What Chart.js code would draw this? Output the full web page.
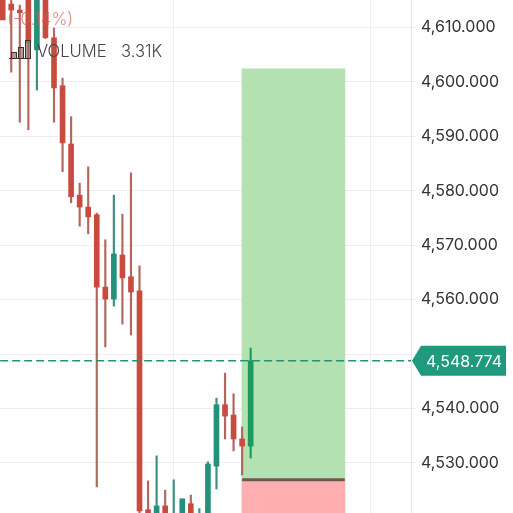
<!DOCTYPE html>
<html>
<head>
<meta charset="utf-8">
<style>
  html, body { margin: 0; padding: 0; background: #fff; }
  #chart { display: block; }
</style>
<script src="https://cdn.jsdelivr.net/npm/chart.js@4"></script>
</head>
<body>
<canvas id="chart" width="513" height="513"></canvas>
<script>
const opens  = [4617, 4614.3, 4613.2, 4617, 4605.9, 4617, 4608.1, 4599.3, 4588.6, 4579.2, 4577.0, 4575.6, 4562.3, 4560.1, 4568.2, 4564.2, 4561.6, 4521.4, 4518, 4522.1, 4517, 4518, 4522.5, 4518, 4518, 4529.4, 4540.7, 4538.8, 4534.4, 4533.1];
const closes = [4611.4, 4613.2, 4612.7, 4607.2, 4617, 4608.1, 4598.9, 4588.8, 4578.9, 4577.0, 4575.2, 4562.3, 4560.1, 4568.4, 4564.0, 4561.4, 4521.2, 4519, 4522.1, 4519, 4519, 4523.4, 4519, 4520, 4529.8, 4540.7, 4538.6, 4534.4, 4533.1, 4548.774];
const highs  = [4617, 4617, 4614.1, 4617, 4617, 4617, 4609.9, 4600.7, 4593.6, 4581.4, 4584.4, 4575.9, 4571.0, 4579.2, 4575.7, 4583.3, 4566.2, 4526.7, 4531.3, 4525.0, 4526.9, 4523.4, 4524.1, 4521.6, 4530.2, 4541.9, 4546.5, 4542.7, 4536.6, 4551.1];
const lows   = [4611.4, 4601.8, 4592.6, 4591.2, 4598.5, 4608, 4592.6, 4583.5, 4577.8, 4573.5, 4572.1, 4525.6, 4551.3, 4558.8, 4555.5, 4553.5, 4520.6, 4518, 4517, 4517, 4516, 4517, 4517, 4517, 4517, 4525.2, 4534.4, 4532.2, 4527.8, 4530.9];

const tickValues = [4530, 4540, 4550, 4560, 4570, 4580, 4590, 4600, 4610];
const xGridLines = [20, 43];
const lastPrice = 4548.774;
const targetBox = [4526.9, 4602.4];
const stopBox = [4520, 4526.9];
const boxSpan = [28, 34, 40];

const RED = '#c94b3f', RED_WICK = '#b2665e';
const GREEN = '#26917a', GREEN_WICK = '#3d9080', LAST_GREEN = '#1b9c5e';

const indexes = opens.map((_, i) => i);
const isLast = i => i === opens.length - 1;
const bodyColors = indexes.map(i => isLast(i) ? LAST_GREEN : closes[i] >= opens[i] ? GREEN : RED);
const wickColors = indexes.map(i => isLast(i) ? LAST_GREEN : closes[i] >= opens[i] ? GREEN_WICK : RED_WICK);

const formatPrice = v => v.toLocaleString('en-US', { minimumFractionDigits: 3, maximumFractionDigits: 3 });

const overlay = {
  id: 'overlay',
  afterDraw(chart) {
    const { ctx, scales } = chart;
    ctx.save();
    ctx.textBaseline = 'middle';
    ctx.textAlign = 'left';

    ctx.fillStyle = 'rgba(205,90,80,0.7)';
    ctx.font = '300 17px Inter';
    ctx.fillText('(-0.14%)', 7, 20);

    ctx.fillStyle = '#444';
    ctx.font = '300 16.6px Inter';
    ctx.fillText('VOLUME', 37, 52);
    ctx.fillText('3.31K', 121, 52);

    // little volume icon
    ctx.strokeStyle = '#3a3230';
    ctx.lineWidth = 1;
    ctx.fillStyle = 'rgba(150,110,105,0.7)';
    [[11, 52, 5, 6], [18, 47, 5, 11], [25, 40, 5, 18]].forEach(([x, y, w, h]) => {
      ctx.fillRect(x, y, w, h);
      ctx.strokeRect(x + 0.5, y + 0.5, w, h);
    });
    ctx.beginPath();
    ctx.moveTo(9, 58.5);
    ctx.lineTo(31, 58.5);
    ctx.stroke();

    // last price tag
    const y = scales.y.getPixelForValue(lastPrice);
    ctx.fillStyle = '#1f9a7c';
    ctx.beginPath();
    ctx.moveTo(412, y);
    ctx.lineTo(421, y - 15);
    ctx.lineTo(506, y - 15);
    ctx.lineTo(506, y + 15);
    ctx.lineTo(421, y + 15);
    ctx.closePath();
    ctx.fill();
    ctx.fillStyle = '#fff';
    ctx.font = '16px Inter';
    ctx.fillText(formatPrice(lastPrice), 426, y + 1);
    ctx.restore();
  }
};

new Chart(document.getElementById('chart'), {
  type: 'bar',
  data: {
    datasets: [
      {
        data: [{ x: boxSpan[1], y: targetBox }],
        backgroundColor: '#b4e1b1',
        barThickness: 103,
        order: 6
      },
      {
        data: [{ x: boxSpan[1], y: stopBox }],
        backgroundColor: '#ffafaf',
        barThickness: 103,
        order: 5
      },
      {
        data: indexes.map(i => ({ x: i, y: [lows[i], highs[i]] })),
        backgroundColor: wickColors,
        barThickness: 1.5,
        order: 4
      },
      {
        data: indexes.map(i => ({ x: i, y: [opens[i], closes[i]] })),
        backgroundColor: bodyColors,
        barThickness: 5,
        order: 3
      },
      {
        type: 'line',
        data: [{ x: boxSpan[0], y: targetBox[0] }, { x: boxSpan[2], y: targetBox[0] }],
        borderColor: '#6b5a52',
        borderWidth: 3,
        pointRadius: 0,
        order: 2
      },
      {
        type: 'line',
        data: [{ x: -0.3, y: lastPrice }, { x: 47.75, y: lastPrice }],
        borderColor: '#2a8f78',
        borderWidth: 1.3,
        borderDash: [8, 4],
        pointRadius: 0,
        order: 1
      }
    ]
  },
  options: {
    responsive: false,
    animation: false,
    layout: { padding: 0 },
    plugins: { legend: { display: false }, tooltip: { enabled: false } },
    datasets: { bar: { grouped: false } },
    scales: {
      x: {
        type: 'linear',
        offset: false,
        min: -0.316,
        max: 47.75,
        afterBuildTicks: s => { s.ticks = xGridLines.map(v => ({ value: v })); },
        ticks: { display: false },
        grid: { color: '#ececec', drawTicks: false, offset: false },
        border: { display: false }
      },
      y: {
        position: 'right',
        min: 4520.8,
        max: 4615.05,
        afterBuildTicks: s => { s.ticks = tickValues.map(v => ({ value: v })); },
        afterFit: s => { s.width = 102; s.paddingTop = 0; s.paddingBottom = 0; },
        ticks: {
          color: '#333',
          padding: 5,
          font: { family: 'Inter', size: 16 },
          callback: v => formatPrice(v)
        },
        grid: { color: '#eeeeee', tickLength: 5 },
        border: { color: '#e6e6e6' }
      }
    }
  },
  plugins: [overlay]
});
</script>
</body>
</html>
